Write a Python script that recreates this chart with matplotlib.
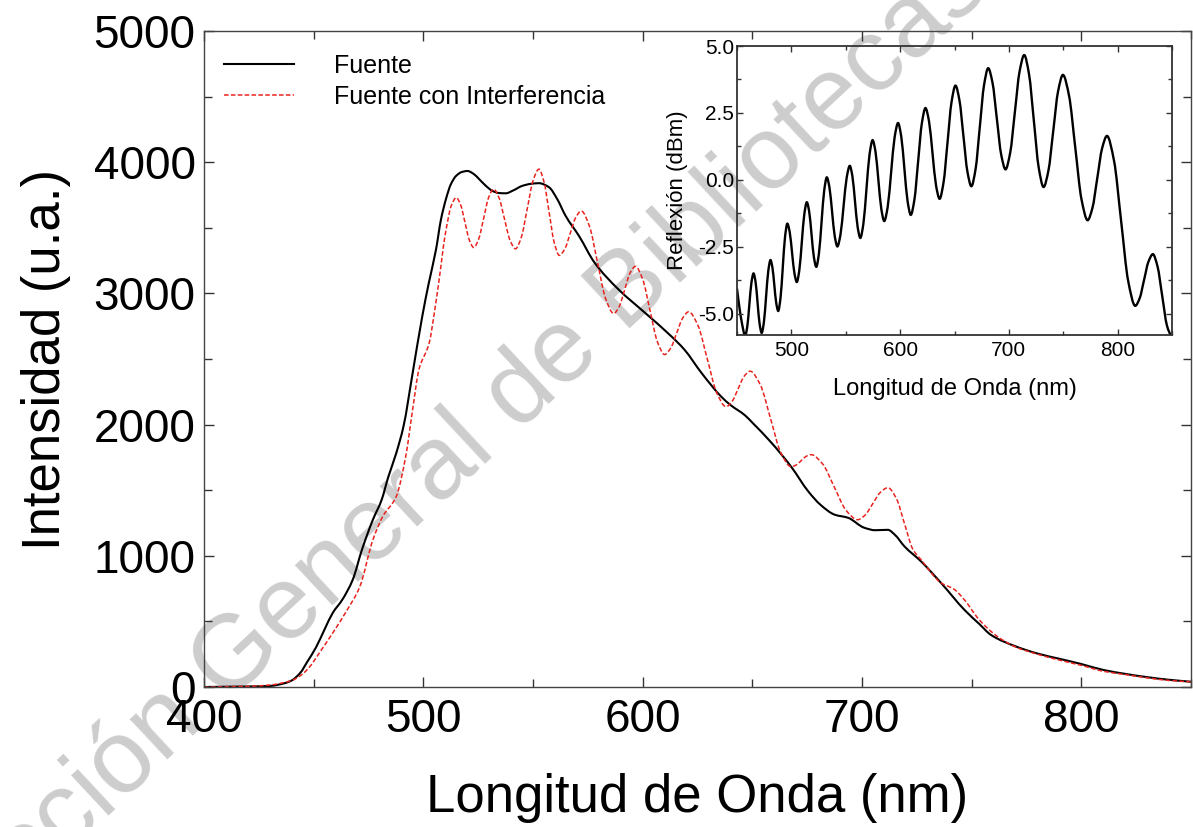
import matplotlib
matplotlib.use("Agg")
import matplotlib.pyplot as plt
from matplotlib.ticker import MultipleLocator, FormatStrFormatter
from matplotlib.path import Path
from matplotlib.patches import PathPatch
from matplotlib.lines import Line2D

plt.rcParams['font.family'] = ['Liberation Sans', 'DejaVu Sans']

# Espectro de la fuente (u.a.)
fuente_nm = [400, 410, 420, 430, 437, 440, 444, 447, 451, 455, 458.7, 463, 467.8, 472, 477, 481,
             484, 487.6, 491, 495, 499.5, 502.5, 505.8, 508, 510.3, 512.5, 514.9, 517.5, 520.1,
             523, 525.5, 528.5, 531.5, 534.5, 537.6, 541, 545, 549, 552.7, 557.3, 561, 564.9,
             571, 578, 589, 601, 613, 619, 627, 636, 640, 646.7, 650, 658.7, 667.7, 675.5, 681,
             687.6, 693.6, 701, 706, 711.8, 715, 719.4, 727, 736, 746.7, 753.5, 758.8, 770, 780,
             790, 800, 810, 820, 830, 840, 850]
fuente_int = [0, 2, 4, 8, 30, 50, 110, 190, 300, 440, 565, 664, 817, 1046, 1275, 1427,
              1600, 1780, 1990, 2380, 2824, 3080, 3336, 3560, 3718, 3830, 3895, 3925, 3933,
              3910, 3870, 3820, 3781, 3765, 3763, 3785, 3819, 3835, 3840, 3809, 3720, 3590,
              3437, 3236, 3030, 2853, 2674, 2572, 2390, 2210, 2150, 2070, 2015, 1862, 1679, 1491,
              1390, 1313, 1290, 1214, 1195, 1198, 1160, 1071, 956, 794, 588, 480, 397, 310, 255,
              215, 175, 130, 100, 75, 55, 40]

# Espectro de la fuente con interferencia (u.a.)
interf_nm = [400, 420, 430, 440, 445, 448, 453, 458.7, 465, 471, 477, 481.5, 487.6, 492, 495,
             498, 502.7, 505, 507, 510, 513, 515, 517, 519, 521, 523, 525.25, 527.5, 529.75,
             532, 534.5, 537, 539.5, 542, 544.7, 547.35, 550, 552.7, 555, 557.35, 559.7, 562,
             564.5, 567, 569.5, 572, 575.7, 579.4, 583.1, 586.8, 589.3, 591.75, 594.2, 596.7,
             600, 603.35, 606.7, 610, 612.75, 615.5, 618.25, 621, 625.25, 629.5, 633.75, 638,
             640.75, 643.5, 646.25, 649, 653.7, 658.35, 663, 667.7, 670, 672.25, 674.5, 676.8,
             682.1, 687.4, 692.7, 698, 701.45, 704.9, 708.35, 711.8, 715.6, 719.4, 723.2, 727,
             736, 742, 746.7, 753.5, 762, 770, 780, 790, 800, 810, 820, 830, 840, 850]
interf_int = [0, 5, 15, 50, 100, 150, 270, 412, 580, 763, 1122, 1300, 1450, 1760, 2100,
              2420, 2624, 2850, 3080, 3450, 3680, 3730, 3675, 3540, 3405, 3350, 3415, 3572, 3730,
              3795, 3729, 3567, 3406, 3340, 3429, 3643, 3858, 3947, 3851, 3618, 3386, 3290,
              3339, 3459, 3579, 3628, 3514, 3237, 2961, 2847, 2899, 3026, 3154, 3206,
              3108, 2870, 2632, 2534, 2582, 2697, 2812, 2860, 2754, 2498, 2243, 2137,
              2176, 2272, 2368, 2407, 2301, 2043, 1785, 1679, 1692, 1725, 1758, 1771,
              1699, 1523, 1347, 1275, 1311, 1397, 1483, 1519, 1439, 1244, 1049, 969,
              794, 745, 664, 511, 382, 305, 250, 205, 165, 120, 95, 70, 50, 40]

# Reflexión medida (dBm)
refl_nm = [450, 452, 454.5, 457.5, 459.43, 461.35, 463.28, 465.2, 467.08, 468.95, 470.83, 472.7,
           474.73, 476.75, 478.78, 480.8, 482.58, 484.35, 486.13, 487.9, 490.0, 492.1, 494.2,
           496.3, 498.48, 500.65, 502.83, 505.0, 507.3, 509.6, 511.9, 514.2, 516.38, 518.55,
           520.73, 522.9, 525.33, 527.75, 530.18, 532.6, 535.03, 537.45, 539.88, 542.3, 545.15,
           548.0, 550.85, 553.7, 556.13, 558.55, 560.98, 563.4, 566.23, 569.05, 571.88, 574.7,
           577.38, 580.05, 582.73, 585.4, 588.58, 591.75, 594.93, 598.1, 601.03, 603.95, 606.88,
           609.8, 613.18, 616.55, 619.93, 623.3, 626.55, 629.8, 633.05, 636.3, 639.95, 643.6,
           647.25, 650.9, 654.55, 658.2, 661.85, 665.5, 669.38, 673.25, 677.13, 681.0, 684.98,
           688.95, 692.93, 696.9, 701.2, 705.5, 709.8, 714.1, 718.55, 723.0, 727.45, 731.9,
           736.35, 740.8, 745.25, 749.7, 755.38, 761.05, 766.73, 772.4, 776.85, 781.3, 785.75,
           790.2, 796.7, 803.2, 809.7, 816.2, 820.25, 824.3, 828.35, 832.4, 836.7, 841.0, 845.3,
           849.6]
refl_dbm = [-4.07, -4.7, -5.35, -5.83, -5.49, -4.665, -3.84, -3.50, -3.82, -4.61, -5.40, -5.72,
            -5.32, -4.36, -3.40, -3.00, -3.28, -3.95, -4.62, -4.90, -4.42, -3.27, -2.12,
            -1.64, -1.96, -2.73, -3.50, -3.82, -3.38, -2.33, -1.28, -0.84, -1.19, -2.045,
            -2.90, -3.25, -2.76, -1.58, -0.40, 0.09, -0.29, -1.20, -2.11, -2.49, -2.05,
            -0.985, 0.08, 0.52, 0.13, -0.825, -1.78, -2.17, -1.64, -0.345, 0.95, 1.48,
            1.04, -0.03, -1.10, -1.54, -1.01, 0.29, 1.59, 2.12, 1.62, 0.405, -0.81,
            -1.31, -0.73, 0.685, 2.10, 2.68, 2.19, 0.985, -0.22, -0.71, -0.09, 1.405,
            2.90, 3.52, 2.97, 1.64, 0.31, -0.24, 0.40, 1.965, 3.53, 4.17, 3.62,
            2.28, 0.94, 0.39, 1.01, 2.525, 4.04, 4.66, 3.94, 2.195, 0.45, -0.27,
            0.34, 1.825, 3.31, 3.92, 3.13, 1.205, -0.72, -1.51, -1.05, 0.065, 1.18,
            1.64, 0.71, -1.535, -3.78, -4.71, -4.43, -3.745, -3.06, -2.78, -3.24, -4.34, -5.44,
            -5.9]


def smooth_path(x, y):
    """Monotone cubic (PCHIP-style) Bezier path through the given points."""
    n = len(x)
    h = [x[i + 1] - x[i] for i in range(n - 1)]
    d = [(y[i + 1] - y[i]) / h[i] for i in range(n - 1)]
    m = [0.0] * n
    m[0], m[-1] = d[0], d[-1]
    for k in range(1, n - 1):
        if d[k - 1] * d[k] <= 0:
            m[k] = 0.0
        else:
            w1 = 2 * h[k] + h[k - 1]
            w2 = h[k] + 2 * h[k - 1]
            m[k] = (w1 + w2) / (w1 / d[k - 1] + w2 / d[k])
    verts = [(x[0], y[0])]
    codes = [Path.MOVETO]
    for i in range(n - 1):
        verts += [(x[i] + h[i] / 3, y[i] + m[i] * h[i] / 3),
                  (x[i + 1] - h[i] / 3, y[i + 1] - m[i + 1] * h[i] / 3),
                  (x[i + 1], y[i + 1])]
        codes += [Path.CURVE4] * 3
    return Path(verts, codes)


W, H = 1193, 827
fig = plt.figure(figsize=(W / 100, H / 100), dpi=100)
fig.patch.set_facecolor('white')

# Marca de agua
fig.text(422 / W, 1 - 486 / H, 'Dirección General de Bibliotecas', fontsize=75,
         color='#cdcdcd', rotation=43, rotation_mode='anchor', ha='center', va='center',
         zorder=-5)

RED = '#e8231e'

ax = fig.add_axes([204 / W, 1 - 687 / H, (1191 - 204) / W, (687 - 31) / H])
ax.set_facecolor('none')
ax.add_patch(PathPatch(smooth_path(fuente_nm, fuente_int), fill=False, edgecolor='black',
                       lw=1.5, capstyle='round', joinstyle='round'))
ax.add_patch(PathPatch(smooth_path(interf_nm, interf_int), fill=False, edgecolor=RED,
                       lw=1.1, linestyle=(0, (3, 1.5))))
ax.set_xlim(400, 850)
ax.set_ylim(0, 5000)
ax.xaxis.set_major_locator(MultipleLocator(100))
ax.xaxis.set_minor_locator(MultipleLocator(50))
ax.yaxis.set_major_locator(MultipleLocator(1000))
ax.yaxis.set_minor_locator(MultipleLocator(500))
ax.tick_params(which='both', direction='in', top=True, right=True, color='#333333',
               labelsize=33, width=1)
ax.tick_params(which='major', length=7)
ax.tick_params(which='minor', length=6)
ax.tick_params(axis='x', pad=8)
ax.tick_params(axis='y', pad=6)
for s in ax.spines.values():
    s.set_color('#444444')
    s.set_linewidth(1.0)
ax.set_xlabel('Longitud de Onda (nm)', fontsize=38, labelpad=22)
ax.set_ylabel('Intensidad (u.a.)', fontsize=38, labelpad=16)
handles = [Line2D([], [], color='black', lw=1.5),
           Line2D([], [], color=RED, lw=1.1, dashes=(3, 1.5))]
ax.legend(handles, ['Fuente', 'Fuente con Interferencia'], loc='upper left',
          bbox_to_anchor=(0.0, 0.996), frameon=False, fontsize=18,
          handlelength=2.8, handletextpad=1.6, labelspacing=0.3, borderaxespad=0.4)

# Recuadro con la reflexión
ins = fig.add_axes([737 / W, 1 - 335 / H, (1172 - 737) / W, (335 - 46) / H])
ins.set_facecolor('none')
ins.add_patch(PathPatch(smooth_path(refl_nm, refl_dbm), fill=False, edgecolor='black',
                        lw=1.7))
ins.set_xlim(450, 850)
ins.set_ylim(-5.8, 5.0)
ins.xaxis.set_major_locator(MultipleLocator(100))
ins.xaxis.set_minor_locator(MultipleLocator(50))
ins.yaxis.set_major_locator(MultipleLocator(2.5))
ins.yaxis.set_minor_locator(MultipleLocator(1.25))
ins.yaxis.set_major_formatter(FormatStrFormatter('%.1f'))
ins.tick_params(which='both', direction='in', top=True, right=True, labelsize=15,
                width=1, color='#333333')
ins.tick_params(which='major', length=4)
ins.tick_params(which='minor', length=3)
ins.tick_params(axis='x', pad=4)
ins.tick_params(axis='y', pad=2)
for s in ins.spines.values():
    s.set_color('#333333')
    s.set_linewidth(1.3)
ins.set_xlabel('Longitud de Onda (nm)', fontsize=17, labelpad=13)
ins.set_ylabel('Reflexión (dBm)', fontsize=16, labelpad=7)

fig.savefig('out.png', dpi=100)
